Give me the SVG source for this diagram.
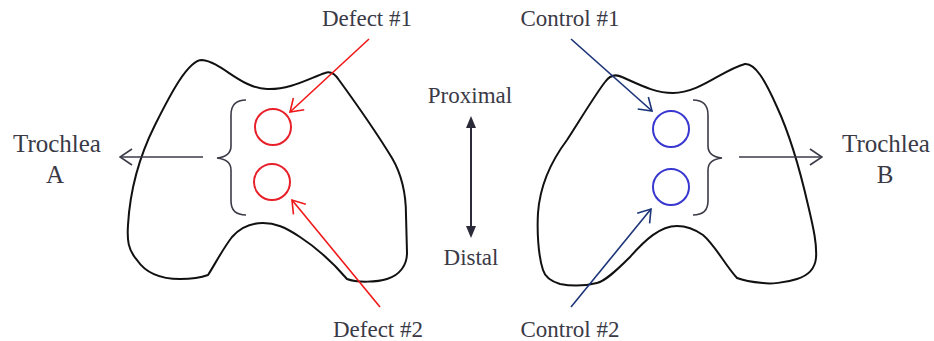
<svg xmlns="http://www.w3.org/2000/svg" width="934" height="341" viewBox="0 0 934 341">
  <style>
    .outline { fill: none; stroke: #111; stroke-width: 2; stroke-linejoin: round; }
    .brace { fill: none; stroke: #3b3b48; stroke-width: 1.6; }
    .defect { fill: none; stroke: #e8202a; stroke-width: 2; }
    .control { fill: none; stroke: #3838d0; stroke-width: 2; }
    .lbl { font-family: "Liberation Serif", "Times New Roman", serif; font-size: 23px; fill: #3a3a46; text-anchor: middle; }
    .big { font-size: 25px; }
    .gray { stroke: #3b3b48; stroke-width: 1.6; fill: none; }
    .red { stroke: #f01818; stroke-width: 1.6; fill: none; }
    .navy { stroke: #1c3478; stroke-width: 1.6; fill: none; }
  </style>
  <defs>
    <marker id="openGray" markerUnits="userSpaceOnUse" viewBox="0 0 14 18" refX="13" refY="9" markerWidth="14" markerHeight="18" orient="auto">
      <path d="M1,1 L13,9 L1,17" fill="none" stroke="#3b3b48" stroke-width="1.6"/>
    </marker>
    <marker id="openRed" markerUnits="userSpaceOnUse" viewBox="0 0 14 18" refX="13" refY="9" markerWidth="14" markerHeight="18" orient="auto">
      <path d="M1,1 L13,9 L1,17" fill="none" stroke="#f01818" stroke-width="1.6"/>
    </marker>
    <marker id="openNavy" markerUnits="userSpaceOnUse" viewBox="0 0 14 18" refX="13" refY="9" markerWidth="14" markerHeight="18" orient="auto">
      <path d="M1,1 L13,9 L1,17" fill="none" stroke="#1c3478" stroke-width="1.6"/>
    </marker>
    <marker id="solidDark" markerUnits="userSpaceOnUse" viewBox="0 0 12 12" refX="11" refY="6" markerWidth="12" markerHeight="12" orient="auto">
      <path d="M0,1 L12,6 L0,11 Z" fill="#2a2a38"/>
    </marker>
  </defs>

  <!-- Trochlea A outline with defect sites -->
  <g id="trochlea-a">
    <path class="outline" d="M 202,60 C 222,62 240,88 267,89 C 290,90 310,78 325,73 C 330,71 335,74 339,80 C 355,102 378,135 392,158 C 402,175 406,192 406,215 L 407,253 C 407,265 400,275 387,279 C 378,282 357,283 347,279 C 335,265 320,250 300,237 C 285,227 275,223 263,223 C 250,223 240,228 232,237 C 222,250 214,266 208,275 C 200,278 190,279 180,279 C 160,279 145,272 137,260 C 128,250 127,240 128,225 C 130,190 140,155 155,125 C 170,95 188,60 202,60 Z"/>
    <path class="brace" d="M 246,100 C 236,100 231,105 231,115 L 231,146 C 231,153 226,157 217,158 C 226,159 231,163 231,170 L 231,201 C 231,211 236,215 246,215"/>
    <circle class="defect" cx="273" cy="127" r="18"/>
    <circle class="defect" cx="272" cy="182" r="18"/>
  </g>

  <!-- Trochlea B outline with control sites -->
  <g id="trochlea-b">
    <path class="outline" d="M 605,82 C 610,75 616,74 622,77 C 640,85 655,93 673,93 C 700,93 722,70 745,64 C 755,63 765,80 777,107 C 790,135 800,170 808,205 C 814,230 817,245 816,258 C 815,268 810,275 797,279 C 785,283 770,284 763,283 C 752,282 742,280 737,278 C 725,265 715,245 703,235 C 693,228 685,226 677,226 C 660,226 645,240 630,257 C 615,272 605,281 597,283 C 585,286 570,286 560,284 C 550,281 545,277 543,270 C 538,255 537,230 538,213 C 540,185 552,160 567,140 C 580,120 595,95 605,82 Z"/>
    <path class="brace" d="M 693,100 C 703,100 708,105 708,115 L 708,146 C 708,153 713,157 722,158 C 713,159 708,163 708,170 L 708,201 C 708,211 703,215 693,215"/>
    <circle class="control" cx="671" cy="129" r="18"/>
    <circle class="control" cx="671" cy="187" r="18"/>
  </g>

  <!-- Labels -->
  <g id="labels">
    <text class="lbl big" x="57" y="152">Trochlea</text>
    <text class="lbl big" x="55" y="183">A</text>
    <text class="lbl big" x="886" y="152">Trochlea</text>
    <text class="lbl big" x="885" y="183">B</text>
    <text class="lbl" x="367" y="26">Defect #1</text>
    <text class="lbl" x="378" y="337">Defect #2</text>
    <text class="lbl" x="570" y="26">Control #1</text>
    <text class="lbl" x="570" y="337">Control #2</text>
    <text class="lbl" x="470" y="103">Proximal</text>
    <text class="lbl" x="471" y="265">Distal</text>
  </g>

  <!-- Connectors -->
  <g id="connectors">
    <line class="gray" x1="203" y1="157" x2="120" y2="157" marker-end="url(#openGray)"/>
    <line class="gray" x1="739" y1="157" x2="822" y2="157" marker-end="url(#openGray)"/>
    <line class="red" x1="369" y1="39" x2="290" y2="112" marker-end="url(#openRed)"/>
    <line class="red" x1="380" y1="307" x2="292" y2="200" marker-end="url(#openRed)"/>
    <line class="navy" x1="571" y1="39" x2="652" y2="111" marker-end="url(#openNavy)"/>
    <line class="navy" x1="571" y1="307" x2="651" y2="209" marker-end="url(#openNavy)"/>
    <line x1="471" y1="127" x2="471" y2="227" stroke="#2a2a38" stroke-width="2"/>
    <line x1="471" y1="130" x2="471" y2="117" stroke="none" marker-end="url(#solidDark)"/>
    <line x1="471" y1="224" x2="471" y2="237" stroke="none" marker-end="url(#solidDark)"/>
  </g>
</svg>
